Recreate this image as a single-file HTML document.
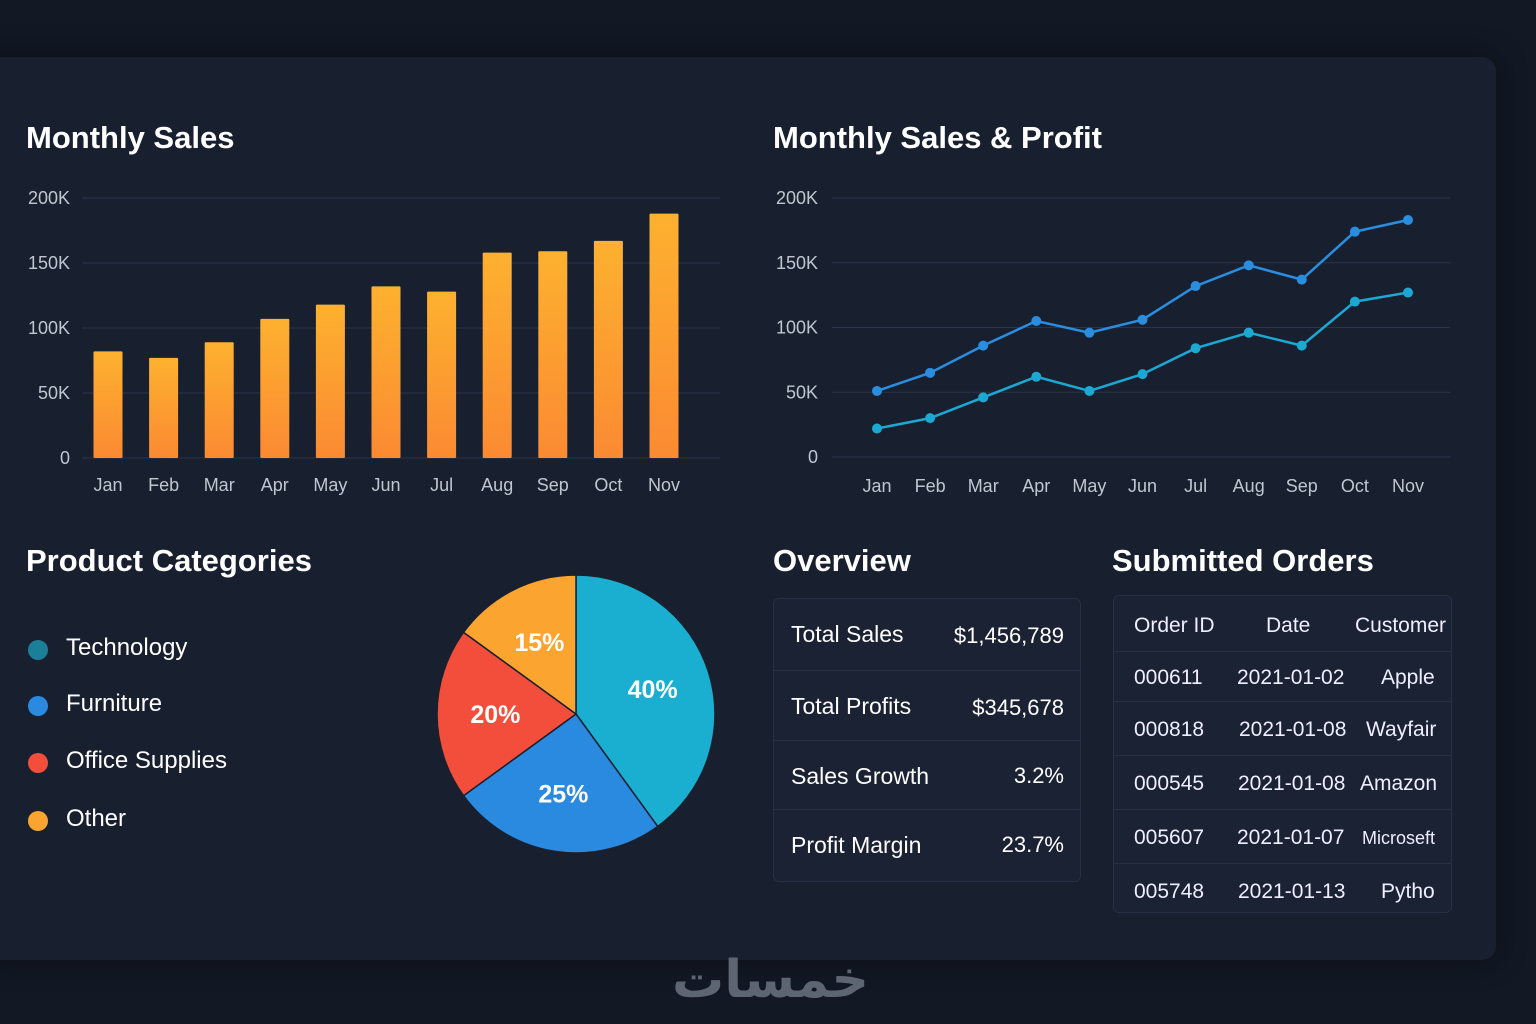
<!DOCTYPE html>
<html><head><meta charset="utf-8"><style>
body{margin:0;width:1536px;height:1024px;background:#121824;font-family:"Liberation Sans","Noto Sans CJK SC",sans-serif;overflow:hidden;position:relative;color:#fff}
.panel{position:absolute;left:-20px;top:57px;width:1516px;height:903px;background:#182030;border-radius:14px;box-shadow:0 0 30px rgba(0,0,0,.4)}
.t{position:absolute;font-size:31px;font-weight:bold;color:#fff}
.box{position:absolute;border:1px solid #253044;border-radius:6px;background:#1a2233}
.row{position:absolute;left:0;right:0;border-top:1px solid #253044;font-size:23px}
.c{position:absolute;font-size:21px;color:#eef}
</style></head><body>
<div class="panel"></div>
<div class="t" style="left:26px;top:120px">Monthly Sales</div>
<div class="t" style="left:773px;top:120px">Monthly Sales &amp; Profit</div>
<div class="t" style="left:26px;top:543px">Product Categories</div>
<div class="t" style="left:773px;top:543px">Overview</div>
<div class="t" style="left:1112px;top:543px">Submitted Orders</div>

<svg id="bar" style="position:absolute;left:0;top:0" width="760" height="520">
<defs><linearGradient id="og" x1="0" y1="0" x2="0" y2="1"><stop offset="0" stop-color="#fdb12f"/><stop offset="1" stop-color="#fb8a32"/></linearGradient></defs>
</svg>
<svg id="line" style="position:absolute;left:760px;top:0" width="776" height="520"></svg>

<div>
<div style="position:absolute;left:28px;top:640px;width:20px;height:20px;border-radius:50%;background:#1b7f9a"></div>
<div style="position:absolute;left:66px;top:634px;font-size:24px">Technology</div>
<div style="position:absolute;left:28px;top:696px;width:20px;height:20px;border-radius:50%;background:#2a8ae0"></div>
<div style="position:absolute;left:66px;top:690px;font-size:24px">Furniture</div>
<div style="position:absolute;left:28px;top:753px;width:20px;height:20px;border-radius:50%;background:#f24e3b"></div>
<div style="position:absolute;left:66px;top:747px;font-size:24px">Office Supplies</div>
<div style="position:absolute;left:28px;top:811px;width:20px;height:20px;border-radius:50%;background:#fba530"></div>
<div style="position:absolute;left:66px;top:805px;font-size:24px">Other</div>
</div>
<svg id="pie" style="position:absolute;left:420px;top:550px" width="320" height="330"></svg>

<div class="box" style="left:773px;top:598px;width:306px;height:282px">
<div class="row" style="top:0;height:71px;border:none"><span style="position:absolute;left:17px;top:22px">Total Sales</span><span style="position:absolute;right:16px;top:24px;font-size:22px">$1,456,789</span></div>
<div class="row" style="top:71px;height:70px"><span style="position:absolute;left:17px;top:22px">Total Profits</span><span style="position:absolute;right:16px;top:24px;font-size:22px">$345,678</span></div>
<div class="row" style="top:141px;height:69px"><span style="position:absolute;left:17px;top:22px">Sales Growth</span><span style="position:absolute;right:16px;top:22px;font-size:22px">3.2%</span></div>
<div class="row" style="top:210px;height:71px"><span style="position:absolute;left:17px;top:22px">Profit Margin</span><span style="position:absolute;right:16px;top:22px;font-size:22px">23.7%</span></div>
</div>

<div class="box" style="left:1113px;top:595px;width:337px;height:316px">
<div class="row" style="top:0;height:55px;border:none"><span class="c" style="left:20px;top:18px">Order ID</span><span class="c" style="left:152px;top:18px">Date</span><span class="c" style="left:241px;top:18px">Customer</span></div>
<div class="row" style="top:55px;height:50px"><span class="c" style="left:20px;top:14px">000611</span><span class="c" style="left:123px;top:14px">2021-01-02</span><span class="c" style="left:267px;top:14px">Apple</span></div>
<div class="row" style="top:105px;height:54px"><span class="c" style="left:20px;top:16px">000818</span><span class="c" style="left:125px;top:16px">2021-01-08</span><span class="c" style="left:252px;top:16px">Wayfair</span></div>
<div class="row" style="top:159px;height:54px"><span class="c" style="left:20px;top:16px">000545</span><span class="c" style="left:124px;top:16px">2021-01-08</span><span class="c" style="left:246px;top:16px">Amazon</span></div>
<div class="row" style="top:213px;height:54px"><span class="c" style="left:20px;top:16px">005607</span><span class="c" style="left:123px;top:16px">2021-01-07</span><span class="c" style="left:248px;top:18px;font-size:18px">Microseft</span></div>
<div class="row" style="top:267px;height:49px"><span class="c" style="left:20px;top:16px">005748</span><span class="c" style="left:124px;top:16px">2021-01-13</span><span class="c" style="left:267px;top:16px">Pytho</span></div>
</div>

<div style="position:absolute;left:672px;top:950px;font-size:52px;font-weight:bold;color:#5d6472;font-family:'DejaVu Sans',sans-serif">خمسات</div>

<script>
const months=["Jan","Feb","Mar","Apr","May","Jun","Jul","Aug","Sep","Oct","Nov"];
const yTicks=[0,50,100,150,200];
const tickLabels=["0","50K","100K","150K","200K"];
const monthlySales=[82,77,89,107,118,132,128,158,159,167,188];
const lineSales=[51,65,86,105,96,106,132,148,137,174,183];
const lineProfit=[22,30,46,62,51,64,84,96,86,120,127];
const pieLabels=["Technology","Furniture","Office Supplies","Other"];
const piePct=[40,25,20,15];
const NS="http://www.w3.org/2000/svg";
function mk(p,t,a){const e=document.createElementNS(NS,t);for(const k in a)e.setAttribute(k,a[k]);p.appendChild(e);return e;}

// bar chart
const bar=document.getElementById('bar');
const by=v=>458-v*1.3, bx=i=>108+i*55.6;
yTicks.forEach((v,i)=>{
 const g=mk(bar,'line',{x1:82,x2:720,y1:by(v),y2:by(v),stroke:'#2a3347','stroke-width':1});
 
 
 const t=mk(bar,'text',{x:70,y:by(v)+6,'text-anchor':'end','font-size':18,fill:'#c0c6d0','font-family':'Liberation Sans'});
 t.textContent=tickLabels[i];
 
 
});
monthlySales.forEach((v,i)=>{
 const r=mk(bar,'rect',{x:bx(i)-14.5,y:by(v),width:29,height:v*1.3,fill:'url(#og)',rx:1});
 
 
 const t=mk(bar,'text',{x:bx(i),y:491,'text-anchor':'middle','font-size':18,fill:'#c0c6d0','font-family':'Liberation Sans'});
 t.textContent=months[i];
 
 
});

// line chart
const ln=document.getElementById('line');
const ly=v=>457-v*1.295, lx=i=>117+i*53.1;
yTicks.forEach((v,i)=>{
 const g=mk(ln,'line',{x1:72,x2:690,y1:ly(v),y2:ly(v),stroke:'#2a3347','stroke-width':1});
 
 
 const t=mk(ln,'text',{x:58,y:ly(v)+6,'text-anchor':'end','font-size':18,fill:'#c0c6d0','font-family':'Liberation Sans'});
 t.textContent=tickLabels[i];
 
 
});
months.forEach((m,i)=>{
 const t=mk(ln,'text',{x:lx(i),y:492,'text-anchor':'middle','font-size':18,fill:'#c0c6d0','font-family':'Liberation Sans'});
 t.textContent=m;
 
 
});
[[lineSales,'#2a8ee0','sales'],[lineProfit,'#1ba9d4','profit']].forEach(([d,c,n])=>{
 const p=mk(ln,'polyline',{points:d.map((v,i)=>lx(i)+','+ly(v)).join(' '),fill:'none',stroke:c,'stroke-width':2.5});
 
 
 d.forEach((v,i)=>{
  const pt=mk(ln,'circle',{cx:lx(i),cy:ly(v),r:5,fill:c});
  
  
 });
});

// pie
const pie=document.getElementById('pie');
const cx=156,cy=164,R=139,cols=['#1aafd0','#2a8ae0','#f24e3b','#fba530'];
let a0=0;const tot=piePct.reduce((a,b)=>a+b,0);
piePct.forEach((v,i)=>{
 const a1=a0+v/tot*2*Math.PI;
 const P=a=>[cx+R*Math.sin(a),cy-R*Math.cos(a)];
 const [x0,y0]=P(a0),[x1,y1]=P(a1);
 const s=mk(pie,'path',{d:`M${cx},${cy} L${x0},${y0} A${R},${R} 0 ${a1-a0>Math.PI?1:0} 1 ${x1},${y1} Z`,fill:cols[i],stroke:'#182030','stroke-width':1.5});
 
 
 const am=(a0+a1)/2;
 const t=mk(pie,'text',{x:cx+R*0.58*Math.sin(am),y:cy-R*0.58*Math.cos(am)+9,'text-anchor':'middle','font-size':25,'font-weight':'bold',fill:'#fff','font-family':'Liberation Sans'});
 t.textContent=v+'%';
 
 
 a0=a1;
});
</script>
</body></html>
